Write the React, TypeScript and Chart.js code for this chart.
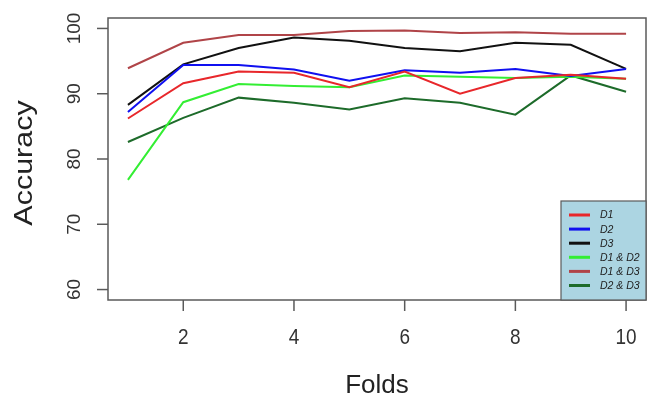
import React, { useEffect, useRef } from "react";
import { Chart, registerables } from "chart.js";

Chart.register(...registerables);

const folds = [1, 2, 3, 4, 5, 6, 7, 8, 9, 10];
const seriesLabels = ["D1", "D2", "D3", "D1 & D2", "D1 & D3", "D2 & D3"];
const d1 = [86.2, 91.6, 93.4, 93.2, 91.0, 93.4, 90.0, 92.4, 92.9, 92.3];
const d2 = [87.2, 94.4, 94.4, 93.7, 92.0, 93.6, 93.2, 93.8, 92.7, 93.8];
const d3 = [88.3, 94.5, 97.0, 98.6, 98.1, 97.0, 96.5, 97.8, 97.5, 93.8];
const d1d2 = [76.8, 88.7, 91.5, 91.2, 91.0, 92.8, 92.6, 92.4, 92.6, 92.3];
const d1d3 = [93.9, 97.8, 99.0, 99.0, 99.6, 99.7, 99.3, 99.4, 99.2, 99.2];
const d2d3 = [82.6, 86.3, 89.4, 88.6, 87.6, 89.3, 88.6, 86.8, 92.8, 90.3];
const colors = ["#e8272b", "#1010f0", "#111111", "#33ee33", "#b04448", "#1d6b2a"];
const xTicks = [2, 4, 6, 8, 10];
const yTicks = [60, 70, 80, 90, 100];

const rAxesPlugin = {
  id: "rAxes",
  afterDatasetsDraw(chart: any) {
    const ctx = chart.ctx;
    const a = chart.chartArea;
    const xs = chart.scales.x;
    const ys = chart.scales.y;
    ctx.save();
    ctx.strokeStyle = "#5a5a5a";
    ctx.lineWidth = 1.5;
    ctx.strokeRect(a.left, a.top, a.right - a.left, a.bottom - a.top);
    ctx.fillStyle = "#333333";
    ctx.font = "19px 'Liberation Sans', Arial, sans-serif";
    ctx.textAlign = "center";
    ctx.textBaseline = "middle";
    xTicks.forEach((t) => {
      const px = xs.getPixelForValue(t);
      ctx.beginPath();
      ctx.moveTo(px, a.bottom);
      ctx.lineTo(px, a.bottom + 11);
      ctx.stroke();
      ctx.save();
      ctx.translate(px, 338);
      ctx.scale(1, 1.15);
      ctx.fillText(String(t), 0, 0);
      ctx.restore();
    });
    yTicks.forEach((t) => {
      const py = ys.getPixelForValue(t);
      ctx.beginPath();
      ctx.moveTo(a.left, py);
      ctx.lineTo(a.left - 11, py);
      ctx.stroke();
      ctx.save();
      ctx.translate(75, py);
      ctx.rotate(-Math.PI / 2);
      ctx.fillText(String(t), 0, 0);
      ctx.restore();
    });
    // titles
    ctx.fillStyle = "#222222";
    ctx.textBaseline = "alphabetic";
    ctx.font = "26px 'Liberation Sans', Arial, sans-serif";
    ctx.fillText("Folds", (a.left + a.right) / 2, 393);
    ctx.save();
    ctx.translate(32, 163);
    ctx.rotate(-Math.PI / 2);
    ctx.scale(1.22, 1);
    ctx.font = "25px 'Liberation Sans', Arial, sans-serif";
    ctx.fillText("Accuracy", 0, 0);
    ctx.restore();
    // legend
    const lx = 561;
    const ly = 201;
    const lw = a.right - lx;
    const lh = a.bottom - ly;
    ctx.fillStyle = "#acd5e2";
    ctx.fillRect(lx, ly, lw, lh);
    ctx.strokeStyle = "#5a5a5a";
    ctx.lineWidth = 1.2;
    ctx.strokeRect(lx, ly, lw, lh);
    ctx.font = "italic 10.5px 'Liberation Sans', Arial, sans-serif";
    ctx.textAlign = "left";
    ctx.textBaseline = "middle";
    chart.data.datasets.forEach((ds: any, i: number) => {
      const y = 215 + i * 14.1;
      ctx.strokeStyle = ds.borderColor;
      ctx.lineWidth = 3;
      ctx.beginPath();
      ctx.moveTo(569, y);
      ctx.lineTo(590, y);
      ctx.stroke();
      ctx.fillStyle = "#222222";
      ctx.fillText(ds.label, 600, y + 0.5);
    });
    ctx.restore();
  },
};

export default function App() {
  const ref = useRef<HTMLCanvasElement>(null);
  useEffect(() => {
    document.body.style.margin = "0";
    const all = [d1, d2, d3, d1d2, d1d3, d2d3];
    const chart = new Chart(ref.current!, {
      type: "line",
      data: {
        datasets: all.map((vals, i) => ({
          label: seriesLabels[i],
          data: folds.map((f, j) => ({ x: f, y: vals[j] })),
          borderColor: colors[i],
          backgroundColor: colors[i],
          borderWidth: 2,
          pointRadius: 0,
          tension: 0,
          fill: false,
        })),
      },
      options: {
        animation: false,
        responsive: false,
        layout: { padding: { left: 108, right: 6, top: 18, bottom: 96 } },
        plugins: { legend: { display: false }, tooltip: { enabled: false } },
        scales: {
          x: { type: "linear", display: false, min: 0.64, max: 10.36 },
          y: { type: "linear", display: false, min: 58.4, max: 101.6 },
        },
      },
      plugins: [rAxesPlugin],
    });
    return () => chart.destroy();
  }, []);
  return (
    <div style={{ width: 652, height: 396, background: "#fff" }}>
      <canvas ref={ref} width={652} height={396} style={{ display: "block" }} />
    </div>
  );
}
